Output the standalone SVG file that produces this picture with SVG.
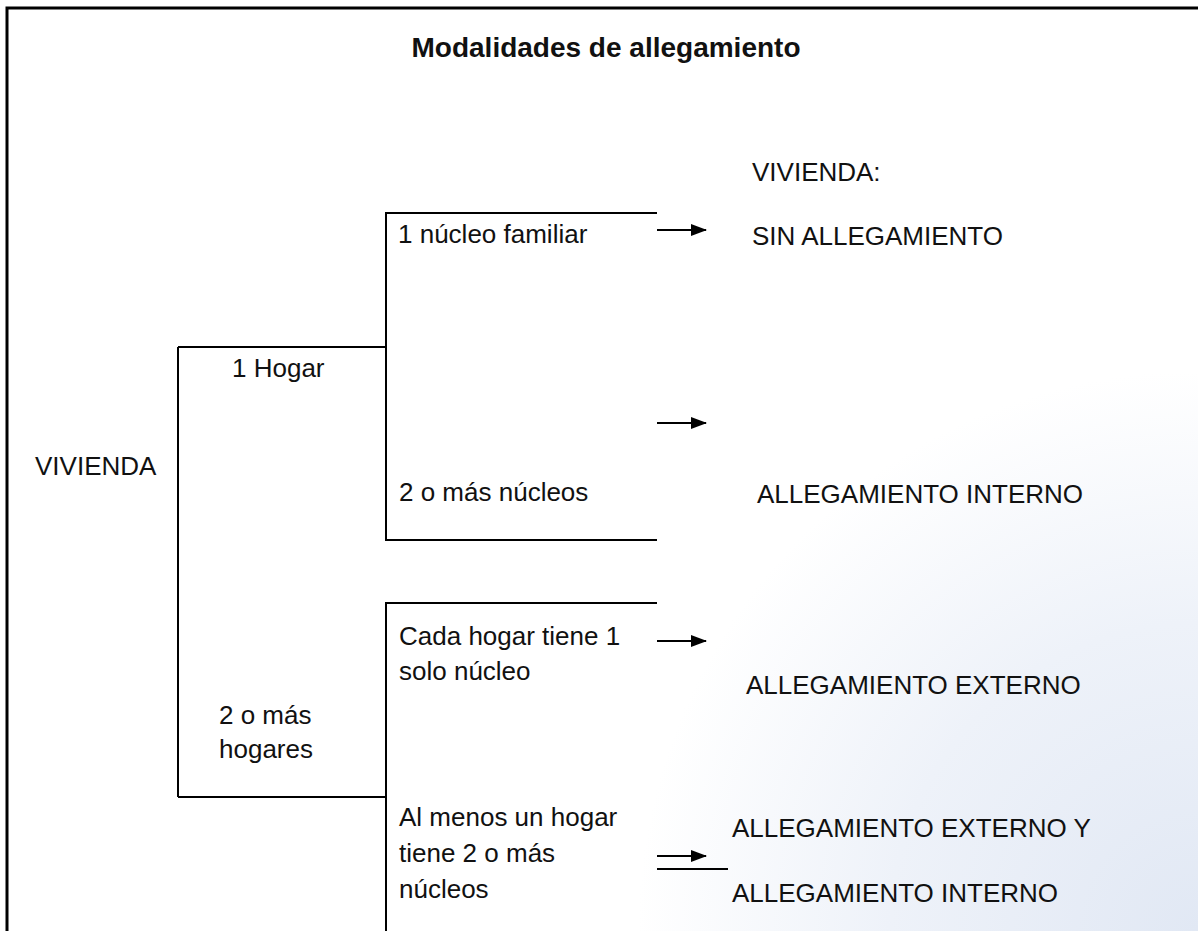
<svg xmlns="http://www.w3.org/2000/svg" width="1198" height="931" viewBox="0 0 1198 931">
<defs>
<radialGradient id="bg" cx="1198" cy="931" r="560" gradientUnits="userSpaceOnUse">
<stop offset="0" stop-color="#e1e8f4"/>
<stop offset="0.55" stop-color="#eef2f9"/>
<stop offset="1" stop-color="#ffffff"/>
</radialGradient>
<marker id="ah" markerWidth="16" markerHeight="12" refX="15" refY="6" orient="auto" markerUnits="userSpaceOnUse">
<path d="M0,0 L16,6 L0,12 Z" fill="#000"/>
</marker>
<style>
text{font-family:"Liberation Sans",Arial,sans-serif;font-size:26px;fill:#111}
.title{font-weight:bold;font-size:28px}
.ln{stroke:#000;stroke-width:2;fill:none}
.ar{stroke:#000;stroke-width:2;fill:none;marker-end:url(#ah)}
</style>
</defs>
<rect x="0" y="0" width="1198" height="931" fill="url(#bg)"/>
<path d="M7,931 V8 H1198" fill="none" stroke="#000" stroke-width="3"/>
<g id="title"><text class="title" x="606" y="57" text-anchor="middle">Modalidades de allegamiento</text></g>
<g id="connectors">
<path class="ln" d="M178,347 V797"/>
<path class="ln" d="M178,347 H386"/>
<path class="ln" d="M178,797 H386"/>
<path class="ln" d="M657,213 H386 V540 H657"/>
<path class="ln" d="M657,603 H386 V931"/>
<path class="ar" d="M657,230 H706"/>
<path class="ar" d="M657,423 H706"/>
<path class="ar" d="M657,641 H706"/>
<path class="ar" d="M657,856 H706"/>
<path class="ln" d="M657,869 H728"/>
</g>
<g id="n-vivienda"><text x="35" y="475">VIVIENDA</text></g>
<g id="n-1hogar"><text x="232" y="377">1 Hogar</text></g>
<g id="n-2hogares"><text x="219" y="724">2 o más</text><text x="219" y="758">hogares</text></g>
<g id="n-1nucleo"><text x="398" y="243">1 núcleo familiar</text></g>
<g id="n-2nucleos"><text x="399" y="501">2 o más núcleos</text></g>
<g id="n-cada"><text x="399" y="645">Cada hogar tiene 1</text><text x="399" y="680">solo núcleo</text></g>
<g id="n-almenos"><text x="399" y="826">Al menos un hogar</text><text x="399" y="862">tiene 2 o más</text><text x="399" y="898">núcleos</text></g>
<g id="n-sin"><text x="752" y="181">VIVIENDA:</text><text x="752" y="245">SIN ALLEGAMIENTO</text></g>
<g id="n-interno"><text x="757" y="503">ALLEGAMIENTO INTERNO</text></g>
<g id="n-externo"><text x="746" y="694">ALLEGAMIENTO EXTERNO</text></g>
<g id="n-ambos"><text x="732" y="837">ALLEGAMIENTO EXTERNO Y</text><text x="732" y="902">ALLEGAMIENTO INTERNO</text></g>
</svg>
